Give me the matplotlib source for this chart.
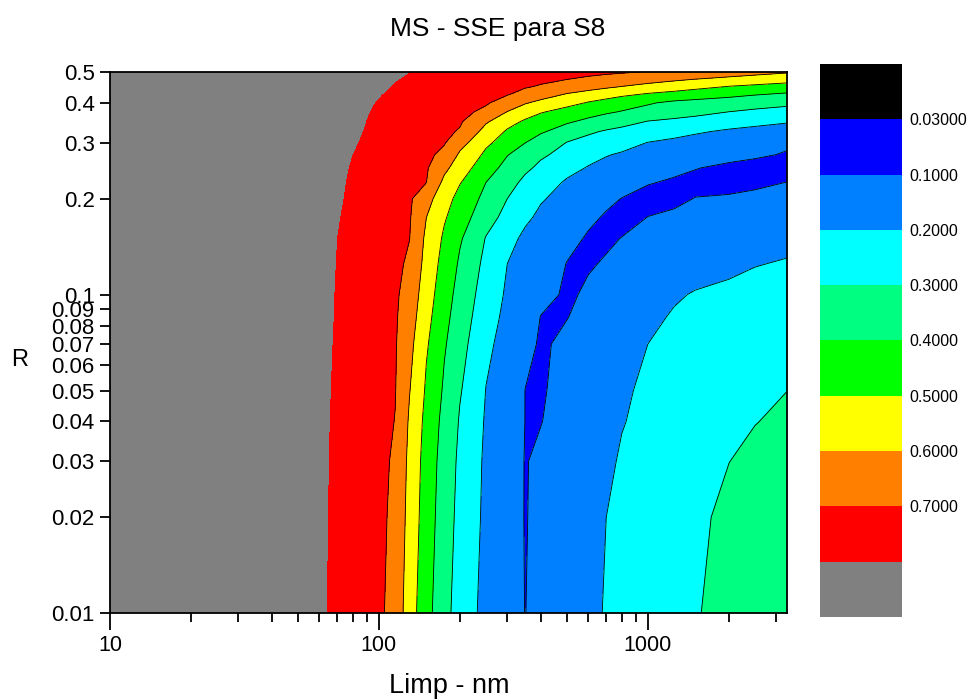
import numpy as np
import matplotlib
matplotlib.use("Agg")
import matplotlib.pyplot as plt
from matplotlib.ticker import FixedLocator, FixedFormatter, NullLocator, NullFormatter

plt.rcParams['font.family'] = ['Liberation Sans', 'DejaVu Sans']

# Limp (nm) sample positions
limp = np.array([10, 30, 50, 60, 70, 80, 90, 100, 115, 130, 150, 175, 200, 250,
                 300, 350, 400, 500, 600, 700, 800, 1000, 1250, 1500, 2000, 2500, 3280])

# R sample positions
r_vals = np.array([0.01, 0.02, 0.03, 0.04, 0.05, 0.07, 0.085, 0.1, 0.125, 0.15,
                   0.175, 0.2, 0.225, 0.25, 0.275, 0.3, 0.325, 0.35, 0.375, 0.4,
                   0.425, 0.45, 0.475, 0.5])

# SSE on the (R, Limp) grid, one row per R value
sse = np.array([
    [1.134, 0.936, 0.843, 0.810, 0.783, 0.758, 0.737, 0.718, 0.662, 0.545, 0.432, 0.331, 0.255, 0.169, 0.122, 0.099, 0.125, 0.158, 0.184, 0.205, 0.221, 0.248, 0.275, 0.294, 0.332, 0.358, 0.391],
    [1.133, 0.937, 0.845, 0.812, 0.785, 0.761, 0.740, 0.721, 0.677, 0.564, 0.449, 0.347, 0.271, 0.179, 0.133, 0.097, 0.117, 0.150, 0.177, 0.200, 0.215, 0.240, 0.265, 0.286, 0.318, 0.342, 0.373],
    [1.132, 0.937, 0.846, 0.813, 0.786, 0.762, 0.741, 0.722, 0.687, 0.574, 0.458, 0.357, 0.280, 0.183, 0.137, 0.097, 0.112, 0.143, 0.168, 0.190, 0.206, 0.229, 0.252, 0.270, 0.299, 0.322, 0.350],
    [1.131, 0.937, 0.847, 0.815, 0.787, 0.764, 0.743, 0.724, 0.698, 0.587, 0.471, 0.370, 0.292, 0.190, 0.144, 0.099, 0.098, 0.132, 0.157, 0.178, 0.197, 0.217, 0.237, 0.253, 0.278, 0.297, 0.321],
    [1.128, 0.937, 0.848, 0.816, 0.789, 0.766, 0.745, 0.727, 0.703, 0.603, 0.487, 0.386, 0.307, 0.198, 0.151, 0.099, 0.093, 0.126, 0.151, 0.172, 0.190, 0.214, 0.232, 0.246, 0.266, 0.281, 0.299],
    [1.125, 0.937, 0.849, 0.818, 0.792, 0.769, 0.749, 0.730, 0.707, 0.626, 0.511, 0.410, 0.332, 0.220, 0.163, 0.121, 0.091, 0.115, 0.137, 0.156, 0.173, 0.200, 0.216, 0.227, 0.243, 0.253, 0.265],
    [1.120, 0.936, 0.850, 0.819, 0.794, 0.771, 0.752, 0.734, 0.710, 0.645, 0.529, 0.428, 0.349, 0.238, 0.176, 0.139, 0.098, 0.098, 0.124, 0.142, 0.158, 0.185, 0.207, 0.214, 0.225, 0.235, 0.246],
    [1.116, 0.935, 0.850, 0.820, 0.795, 0.773, 0.754, 0.736, 0.713, 0.662, 0.544, 0.443, 0.364, 0.252, 0.187, 0.152, 0.122, 0.089, 0.111, 0.128, 0.142, 0.167, 0.191, 0.206, 0.216, 0.222, 0.229],
    [1.110, 0.934, 0.851, 0.822, 0.797, 0.776, 0.757, 0.740, 0.717, 0.687, 0.565, 0.463, 0.387, 0.273, 0.200, 0.169, 0.142, 0.098, 0.093, 0.107, 0.117, 0.133, 0.148, 0.161, 0.182, 0.197, 0.206],
    [1.108, 0.934, 0.853, 0.824, 0.799, 0.778, 0.759, 0.743, 0.721, 0.701, 0.580, 0.484, 0.410, 0.295, 0.223, 0.184, 0.160, 0.121, 0.092, 0.088, 0.102, 0.114, 0.126, 0.136, 0.151, 0.163, 0.177],
    [1.106, 0.935, 0.856, 0.827, 0.803, 0.783, 0.764, 0.748, 0.726, 0.707, 0.601, 0.510, 0.442, 0.339, 0.268, 0.214, 0.184, 0.146, 0.115, 0.092, 0.075, 0.101, 0.110, 0.117, 0.129, 0.137, 0.148],
    [1.105, 0.937, 0.859, 0.831, 0.807, 0.787, 0.768, 0.752, 0.731, 0.712, 0.636, 0.536, 0.469, 0.371, 0.300, 0.251, 0.207, 0.169, 0.141, 0.117, 0.098, 0.075, 0.087, 0.102, 0.109, 0.116, 0.123],
    [1.089, 0.931, 0.858, 0.832, 0.810, 0.790, 0.773, 0.758, 0.738, 0.721, 0.701, 0.576, 0.505, 0.400, 0.332, 0.279, 0.239, 0.189, 0.167, 0.149, 0.133, 0.105, 0.089, 0.081, 0.074, 0.086, 0.101],
    [1.078, 0.928, 0.858, 0.834, 0.813, 0.794, 0.778, 0.764, 0.745, 0.728, 0.709, 0.624, 0.546, 0.440, 0.369, 0.317, 0.280, 0.228, 0.194, 0.179, 0.165, 0.143, 0.121, 0.103, 0.083, 0.074, 0.065],
    [1.071, 0.927, 0.860, 0.836, 0.816, 0.799, 0.783, 0.770, 0.752, 0.736, 0.717, 0.679, 0.585, 0.480, 0.404, 0.355, 0.314, 0.267, 0.233, 0.204, 0.192, 0.176, 0.161, 0.148, 0.127, 0.112, 0.093],
    [1.067, 0.929, 0.864, 0.841, 0.822, 0.805, 0.790, 0.777, 0.759, 0.743, 0.725, 0.706, 0.634, 0.519, 0.453, 0.401, 0.360, 0.297, 0.270, 0.248, 0.228, 0.198, 0.182, 0.170, 0.150, 0.134, 0.115],
    [1.061, 0.928, 0.866, 0.844, 0.826, 0.810, 0.795, 0.783, 0.766, 0.751, 0.733, 0.715, 0.693, 0.562, 0.488, 0.446, 0.410, 0.357, 0.314, 0.290, 0.276, 0.253, 0.229, 0.210, 0.186, 0.170, 0.150],
    [1.046, 0.922, 0.865, 0.845, 0.827, 0.812, 0.799, 0.787, 0.772, 0.758, 0.742, 0.725, 0.710, 0.613, 0.536, 0.487, 0.459, 0.413, 0.380, 0.355, 0.332, 0.298, 0.281, 0.268, 0.247, 0.231, 0.211],
    [1.031, 0.917, 0.864, 0.845, 0.829, 0.815, 0.802, 0.792, 0.777, 0.764, 0.749, 0.733, 0.719, 0.683, 0.598, 0.549, 0.507, 0.467, 0.438, 0.413, 0.395, 0.371, 0.348, 0.329, 0.300, 0.284, 0.266],
    [1.018, 0.912, 0.863, 0.845, 0.830, 0.818, 0.806, 0.796, 0.783, 0.771, 0.757, 0.742, 0.729, 0.708, 0.664, 0.607, 0.576, 0.530, 0.493, 0.468, 0.446, 0.409, 0.380, 0.368, 0.352, 0.339, 0.323],
    [1.008, 0.910, 0.864, 0.848, 0.834, 0.822, 0.811, 0.802, 0.789, 0.778, 0.766, 0.752, 0.740, 0.720, 0.704, 0.673, 0.641, 0.592, 0.563, 0.538, 0.517, 0.489, 0.469, 0.452, 0.426, 0.405, 0.386],
    [0.993, 0.905, 0.864, 0.849, 0.836, 0.826, 0.816, 0.808, 0.796, 0.787, 0.775, 0.763, 0.752, 0.734, 0.719, 0.707, 0.693, 0.663, 0.638, 0.617, 0.599, 0.573, 0.548, 0.527, 0.497, 0.481, 0.461],
    [0.969, 0.894, 0.859, 0.847, 0.836, 0.827, 0.819, 0.812, 0.802, 0.794, 0.784, 0.774, 0.765, 0.749, 0.737, 0.726, 0.717, 0.702, 0.686, 0.672, 0.659, 0.639, 0.618, 0.601, 0.580, 0.563, 0.543],
    [0.929, 0.874, 0.848, 0.839, 0.831, 0.825, 0.819, 0.813, 0.806, 0.800, 0.793, 0.785, 0.778, 0.767, 0.758, 0.750, 0.744, 0.732, 0.723, 0.715, 0.709, 0.696, 0.680, 0.667, 0.646, 0.630, 0.610],
])

# Contour levels and fill colours (lowest band first)
levels = [0.0, 0.03, 0.1, 0.2, 0.3, 0.4, 0.5, 0.6, 0.7, 0.8, 1.2]
fill_colors = ['#000000', '#0000FF', '#0080FF', '#00FFFF', '#00FF80',
               '#00FF00', '#FFFF00', '#FF8000', '#FF0000', '#808080']
line_levels = [0.03, 0.1, 0.2, 0.3, 0.4, 0.5, 0.6, 0.7]
bar_labels = ['0.03000', '0.1000', '0.2000', '0.3000', '0.4000',
              '0.5000', '0.6000', '0.7000']

y_ticks = [0.01, 0.02, 0.03, 0.04, 0.05, 0.06, 0.07, 0.08, 0.09, 0.1, 0.2, 0.3, 0.4, 0.5]
y_tick_labels = ['0.01', '0.02', '0.03', '0.04', '0.05', '0.06', '0.07', '0.08',
                 '0.09', '0.1', '0.2', '0.3', '0.4', '0.5']
x_ticks = [10, 100, 1000]
x_tick_labels = ['10', '100', '1000']
x_minor = [20, 30, 40, 50, 60, 70, 80, 90, 200, 300, 400, 500, 600, 700, 800, 900, 2000, 3000]

fig = plt.figure(figsize=(9.69, 7.0), dpi=100)
ax = fig.add_axes([0.1135, 0.1239, 0.6983, 0.7733])
ax.set_xscale('log')
ax.set_yscale('log')

X, Y = np.meshgrid(limp, r_vals)
cf = ax.contourf(X, Y, sse, levels=levels, colors=fill_colors)
ax.contour(X, Y, sse, levels=line_levels, colors='black', linewidths=0.6)

ax.set_xlim(10, 3280)
ax.set_ylim(0.01, 0.5)

ax.yaxis.set_major_locator(FixedLocator(y_ticks))
ax.yaxis.set_major_formatter(FixedFormatter(y_tick_labels))
ax.yaxis.set_minor_locator(NullLocator())
ax.xaxis.set_major_locator(FixedLocator(x_ticks))
ax.xaxis.set_major_formatter(FixedFormatter(x_tick_labels))
ax.xaxis.set_minor_locator(FixedLocator(x_minor))
ax.xaxis.set_minor_formatter(NullFormatter())

ax.tick_params(axis='y', which='major', direction='out', length=7, width=1.3,
               labelsize=16, pad=4)
ax.tick_params(axis='x', which='major', direction='out', length=12, width=1.3,
               labelsize=15.5, pad=4)
ax.tick_params(axis='x', which='minor', direction='out', length=6.5, width=1.3)
for sp in ax.spines.values():
    sp.set_linewidth(1.3)
    sp.set_color('black')

cax = fig.add_axes([0.8462, 0.1186, 0.0846, 0.79])
cb = fig.colorbar(cf, cax=cax, spacing='uniform', ticks=line_levels)
cb.ax.invert_yaxis()
cb.set_ticklabels(bar_labels)
cb.outline.set_visible(False)
cax.tick_params(length=0, labelsize=11.5, pad=5)

fig.text(0.514, 0.958, 'MS - SSE para S8', ha='center', va='center', fontsize=19)
fig.text(0.4639, 0.02, 'Limp - nm', ha='center', va='center', fontsize=19.5)
fig.text(0.0206, 0.486, 'R', ha='center', va='center', fontsize=17)

fig.savefig('out.png', dpi=100)
